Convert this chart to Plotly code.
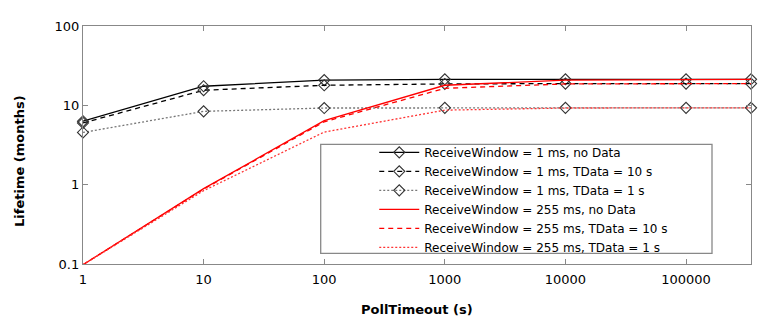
import plotly.graph_objects as go

poll_timeout = [1, 10, 100, 1000, 10000, 100000, 345600]

rw1_nodata = [6.3, 17.4, 20.8, 21.3, 21.3, 21.3, 21.3]
rw1_tdata10 = [6.0, 15.5, 17.9, 18.6, 18.8, 18.8, 18.8]
rw1_tdata1 = [4.55, 8.4, 9.25, 9.3, 9.3, 9.3, 9.3]
rw255_nodata = [0.098, 0.89, 6.4, 17.9, 20.8, 21.3, 21.3]
rw255_tdata10 = [0.098, 0.88, 6.2, 16.4, 18.6, 18.8, 18.8]
rw255_tdata1 = [0.098, 0.84, 4.6, 8.7, 9.25, 9.3, 9.3]

names = [
    "ReceiveWindow = 1 ms, no Data",
    "ReceiveWindow = 1 ms, TData = 10 s",
    "ReceiveWindow = 1 ms, TData = 1 s",
    "ReceiveWindow = 255 ms, no Data",
    "ReceiveWindow = 255 ms, TData = 10 s",
    "ReceiveWindow = 255 ms, TData = 1 s",
]
series = [rw1_nodata, rw1_tdata10, rw1_tdata1, rw255_nodata, rw255_tdata10, rw255_tdata1]
colors = ["black", "black", "#777777", "red", "red", "#ff3333"]
dashes = ["solid", "5px,4px", "2px,2px", "solid", "5px,4px", "2px,2px"]
markers = [True, True, True, False, False, False]

FONT = "DejaVu Sans"

fig = go.Figure()
for name, ys, c, d, m in zip(names, series, colors, dashes, markers):
    fig.add_trace(go.Scatter(
        x=poll_timeout, y=ys, name=name,
        mode="lines+markers" if m else "lines",
        line=dict(color=c, dash=d, width=1.3),
        marker=dict(symbol="diamond-open", size=8.5, color="#333333", line=dict(width=1.1)) if m else None,
        cliponaxis=False,
    ))

axis_common = dict(
    type="log", showgrid=False, zeroline=False, showline=True, linecolor="#888888", linewidth=1.3,
    mirror="ticks", ticks="inside", ticklen=5, tickcolor="#888888", tickwidth=1.3,
    tickfont=dict(family=FONT, size=13, color="black"),
)

fig.update_layout(
    width=769, height=329,
    margin=dict(l=83, r=18, t=26, b=65),
    paper_bgcolor="white", plot_bgcolor="white",
    showlegend=True,
    legend=dict(
        x=0.436, y=0.53, xanchor="left", yanchor="top",
        bgcolor="rgba(0,0,0,0)", borderwidth=0,
        font=dict(family=FONT, size=12, color="black"),
        tracegroupgap=0, itemwidth=40,
    ),
    xaxis=dict(axis_common, range=[0, 5.5386], ticklabelstandoff=3,
               tickvals=[1, 10, 100, 1000, 10000, 100000],
               ticktext=["1", "10", "100", "1000", "10000", "100000"]),
    yaxis=dict(axis_common, range=[-1, 2],
               tickvals=[0.1, 1, 10, 100], ticktext=["0.1", "1", "10", "100"]),
    shapes=[dict(type="rect", xref="paper", yref="paper",
                 x0=(320.7 - 83) / 668, x1=(712 - 83) / 668,
                 y0=(264 - 253.3) / 238, y1=(264 - 144.3) / 238,
                 line=dict(color="#888888", width=1.3), fillcolor="white", layer="below")],
    annotations=[
        dict(text="<b>PollTimeout (s)</b>", xref="paper", yref="paper", x=0.5, y=(264 - 309) / 238,
             xanchor="center", yanchor="middle", showarrow=False,
             font=dict(family=FONT, size=13, color="black")),
        dict(text="<b>Lifetime (months)</b>", xref="paper", yref="paper", x=(19 - 83) / 668,
             y=(264 - 161) / 238, xanchor="center", yanchor="middle", textangle=-90, showarrow=False,
             font=dict(family=FONT, size=13, color="black")),
    ],
)

fig.write_html("out.html", config={"displayModeBar": False},
               post_script="document.body.style.margin='0px';")
